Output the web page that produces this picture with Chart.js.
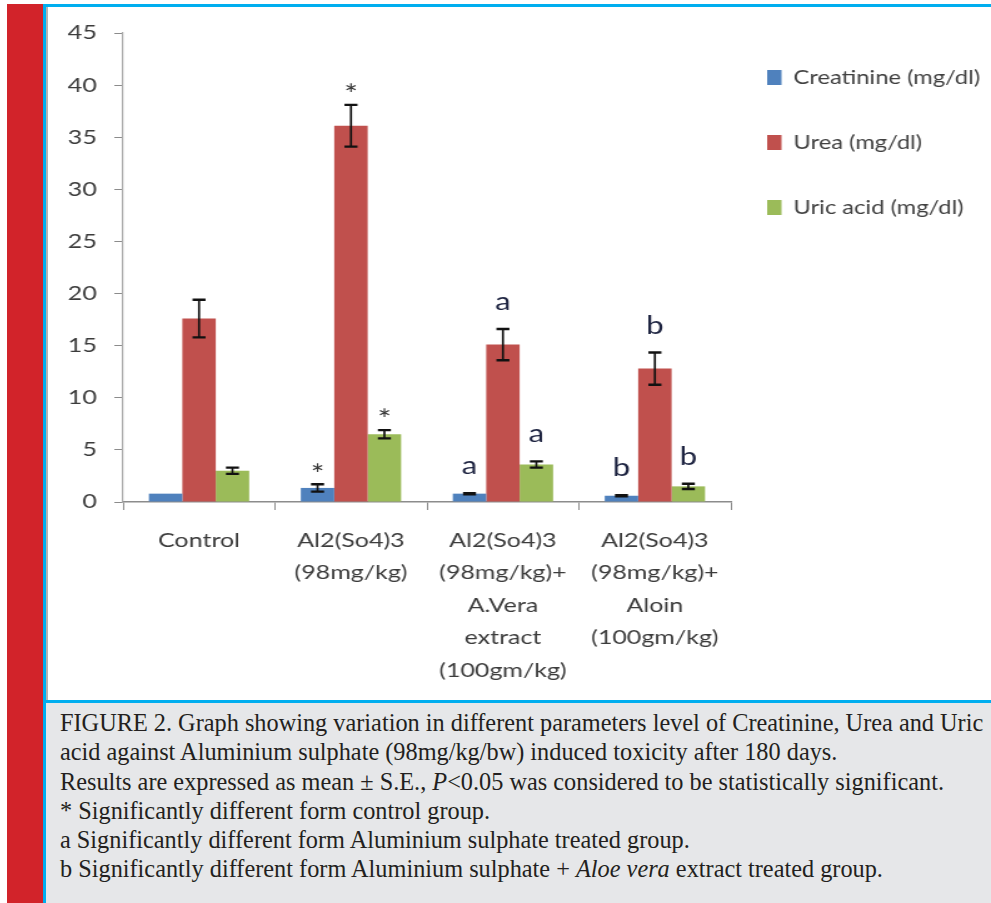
<!DOCTYPE html>
<html>
<head>
<meta charset="utf-8">
<script src="https://cdn.jsdelivr.net/npm/chart.js@4/dist/chart.umd.min.js"></script>
<style>
  html, body { margin: 0; padding: 0; background: #ffffff; }
  body { width: 991px; height: 903px; position: relative; overflow: hidden; }
  .strip { position: absolute; left: 7px; top: 4px; width: 36px; height: 899px; background: #d2232a; }
  .vline { position: absolute; left: 43px; top: 4px; width: 3px; height: 899px; background: #00aeef; }
  .hline-top { position: absolute; left: 43px; top: 4px; width: 948px; height: 3px; background: #00aeef; }
  .hline-mid { position: absolute; left: 43px; top: 700px; width: 948px; height: 3px; background: #00aeef; }
  .plot { position: absolute; left: 46px; top: 7px; width: 945px; height: 693px; border-left: 2px solid #b4b4b4; box-sizing: border-box; }
  #chart { position: absolute; left: 0; top: 0; }
  .caption { position: absolute; left: 46px; top: 703px; width: 945px; height: 200px; background: #e6e7e9;
    box-sizing: border-box; padding: 5px 0 0 14px; font-family: "Liberation Serif", serif; font-size: 24.3px;
    line-height: 29.3px; color: #231f20; white-space: nowrap; overflow: hidden; }
  .caption i { font-style: italic; }
</style>
</head>
<body>
<div class="strip"></div>
<div class="plot"><canvas id="chart" width="754" height="693" style="width:943px;height:693px"></canvas></div>
<div class="vline"></div>
<div class="hline-top"></div>
<div class="hline-mid"></div>
<div class="caption">
  <div>FIGURE 2. Graph showing variation in different parameters level of Creatinine, Urea and Uric</div>
  <div>acid against Aluminium sulphate (98mg/kg/bw) induced toxicity after 180 days.</div>
  <div>Results are expressed as mean ± S.E., <i>P</i>&lt;0.05 was considered to be statistically significant.</div>
  <div>* Significantly different form control group.</div>
  <div>a Significantly different form Aluminium sulphate treated group.</div>
  <div>b Significantly different form Aluminium sulphate + <i>Aloe vera</i> extract treated group.</div>
</div>
<script>
// Groups on the x axis (multi-line labels)
const categories = [
  ['Control'],
  ['Al2(So4)3', '(98mg/kg)'],
  ['Al2(So4)3', '(98mg/kg)+', 'A.Vera', 'extract', '(100gm/kg)'],
  ['Al2(So4)3', '(98mg/kg)+', 'Aloin', '(100gm/kg)']
];

// Means and standard errors (mg/dl)
const creatinine   = [0.8, 1.35, 0.8, 0.6];
const creatinineSE = [0, 0.35, 0.05, 0.05];
const urea         = [17.6, 36.1, 15.1, 12.8];
const ureaSE       = [1.8, 2.0, 1.5, 1.55];
const uricAcid     = [3.0, 6.5, 3.6, 1.5];
const uricAcidSE   = [0.3, 0.4, 0.3, 0.25];

// Significance marks above each bar
const creatinineSig = ['', '*', 'a', 'b'];
const ureaSig       = ['', '*', 'a', 'b'];
const uricAcidSig   = ['', '*', 'a', 'b'];

// Y axis ticks
const yTicks = [0, 5, 10, 15, 20, 25, 30, 35, 40, 45];

const seriesNames = ['Creatinine (mg/dl)', 'Urea (mg/dl)', 'Uric acid (mg/dl)'];
const seriesColors = ['#4f81bd', '#c0504d', '#9bbb59'];

const TEXT = '#3c3c3c';
const AXIS = '#8c8c8c';
const FONT = 'Lato, "Open Sans", sans-serif';

// Draws the ±SE whiskers and the significance letters over the bars
const errorBarsPlugin = {
  id: 'errorBars',
  afterDatasetsDraw(chart) {
    const ctx = chart.ctx;
    const y = chart.scales.y;
    chart.data.datasets.forEach((ds, di) => {
      const meta = chart.getDatasetMeta(di);
      meta.data.forEach((bar, i) => {
        const v = ds.data[i];
        const se = ds.se[i];
        const cx = bar.x;
        let topPx = y.getPixelForValue(v);
        ctx.save();
        ctx.strokeStyle = '#111111';
        if (se > 0) {
          const hi = y.getPixelForValue(v + se);
          const lo = y.getPixelForValue(v - se);
          const cap = 5.2;
          ctx.lineWidth = 1.7;
          ctx.beginPath();
          ctx.moveTo(cx, hi); ctx.lineTo(cx, lo);
          ctx.stroke();
          ctx.lineWidth = 2.4;
          ctx.beginPath();
          ctx.moveTo(cx - cap, hi); ctx.lineTo(cx + cap, hi);
          ctx.moveTo(cx - cap, lo); ctx.lineTo(cx + cap, lo);
          ctx.stroke();
          topPx = hi;
        }
        const mark = ds.sig[i];
        if (mark) {
          ctx.textAlign = 'center';
          ctx.textBaseline = 'middle';
          if (mark === '*') {
            ctx.fillStyle = '#333333';
            ctx.font = '26px ' + FONT;
            ctx.fillText(mark, cx, topPx - 9);
          } else {
            ctx.fillStyle = '#1d2340';
            ctx.font = '25px ' + FONT;
            ctx.fillText(mark, cx, topPx - 27);
          }
        }
        ctx.restore();
      });
    });
  }
};

// Fixes the legend column width and places its items beside the plot
const LEGEND_WIDTH = 208;
const LEGEND_BOX_X = 575;
const LEGEND_TEXT_TOP = 61;
const legendPlacement = {
  id: 'legendPlacement',
  beforeLayout(chart) {
    const lg = chart.legend;
    if (lg && !lg.__fixedWidth) {
      const fit = lg.fit.bind(lg);
      lg.fit = function () { fit(); this.width = LEGEND_WIDTH; };
      lg.__fixedWidth = true;
    }
  },
  afterLayout(chart) {
    const lg = chart.legend;
    const pad = lg.options.labels.padding;
    const dx = LEGEND_BOX_X - (lg.left + pad);
    const dy = LEGEND_TEXT_TOP - (lg.top + pad);
    lg.left += dx;
    lg.top += dy; lg.bottom += dy;
    // let the labels run to the canvas edge
    lg.right = chart.width;
    lg.width = lg.right - lg.left;
  }
};

new Chart(document.getElementById('chart'), {
  type: 'bar',
  data: {
    labels: categories,
    datasets: [
      { label: seriesNames[0], data: creatinine, se: creatinineSE, sig: creatinineSig, backgroundColor: seriesColors[0] },
      { label: seriesNames[1], data: urea, se: ureaSE, sig: ureaSig, backgroundColor: seriesColors[1] },
      { label: seriesNames[2], data: uricAcid, se: uricAcidSE, sig: uricAcidSig, backgroundColor: seriesColors[2] }
    ]
  },
  options: {
    responsive: false,
    animation: false,
    devicePixelRatio: 1,
    datasets: { bar: { categoryPercentage: 0.66, barPercentage: 1.0 } },
    layout: { padding: { top: 25, left: 0, right: 0, bottom: 0 } },
    plugins: {
      tooltip: { enabled: false },
      legend: {
        position: 'right',
        align: 'start',
        labels: {
          boxWidth: 11.5,
          boxHeight: 15,
          padding: 46,
          color: '#404040',
          font: { family: FONT, size: 19 }
        }
      }
    },
    scales: {
      x: {
        grid: { offset: true, drawOnChartArea: false, drawTicks: true, tickLength: 8, color: AXIS },
        border: { color: AXIS, width: 1.5 },
        ticks: { color: TEXT, padding: 14, maxRotation: 0, autoSkip: false,
                 font: { family: FONT, size: 20, lineHeight: '32.5px' } },
        afterFit(scale) { scale.height = 198; }
      },
      y: {
        min: 0,
        max: 45,
        afterBuildTicks(scale) { scale.ticks = yTicks.map(v => ({ value: v })); },
        grid: { drawOnChartArea: false, drawTicks: true, tickLength: 7, color: AXIS },
        border: { color: '#a8a8a8', width: 1.2 },
        ticks: { color: TEXT, padding: 14, font: { family: FONT, size: 20 } },
        afterFit(scale) { scale.width = 60; }
      }
    }
  },
  plugins: [legendPlacement, errorBarsPlugin]
});
</script>
</body>
</html>
